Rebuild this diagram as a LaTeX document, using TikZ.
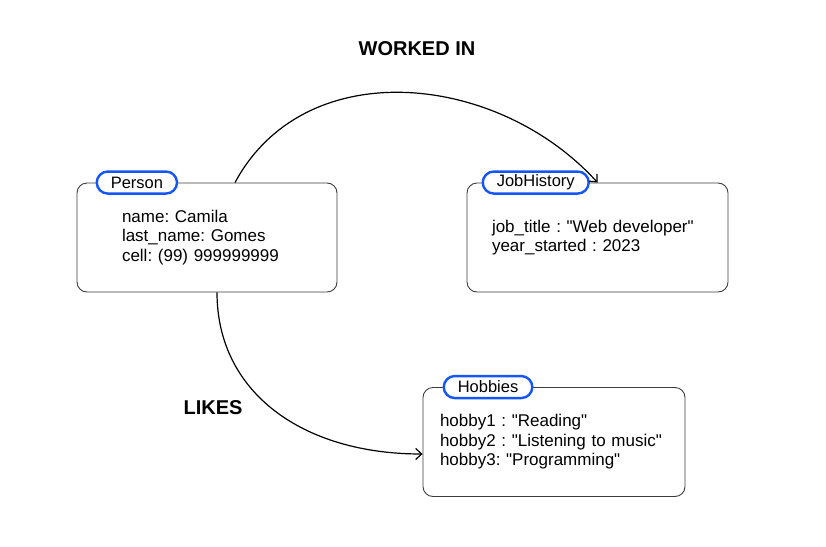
\documentclass[tikz,border=0pt]{standalone}
\usepackage{fontspec}
\setmainfont{Liberation Sans}
\usetikzlibrary{positioning,arrows.meta}
\definecolor{tagblue}{RGB}{20,85,245}
\definecolor{boxgray}{RGB}{60,60,60}
\frenchspacing

\begin{document}
\begin{tikzpicture}[x=1pt,y=-1pt,
  entity/.style={draw=boxgray, line width=0.9pt, rounded corners=10pt,
    minimum height=109pt, align=left, inner ysep=0pt,
    font=\fontsize{17}{19.5}\selectfont},
  tag/.style={draw=tagblue, fill=white, line width=2.4pt, rounded corners=11pt,
    minimum height=22pt, inner xsep=14pt, inner ysep=0pt, anchor=west,
    font=\fontsize{16.5}{19.5}\selectfont},
  rel/.style={font=\bfseries\fontsize{20}{20}\selectfont},
  link/.style={-{Straight Barb[length=6pt,width=11pt]}, line width=1.2pt}]
  \useasboundingbox (0,0) rectangle (826,546);

  % the three records
  \node [entity, inner xsep=45pt, text width=170pt] (person) at (207,237.5)
    {name: Camila\\last\_name: Gomes\\cell: (99) 999999999};
  \node [entity, inner xsep=25pt, text width=211pt] (job) at (597.5,237.5)
    {job\_title : \textquotedbl Web developer\textquotedbl\\year\_started : 2023};
  \node [entity, inner xsep=17pt, text width=228pt] (hobbies) at (554,442)
    {hobby1 : \textquotedbl Reading\textquotedbl\\hobby2 : \textquotedbl Listening to music\textquotedbl\\hobby3: \textquotedbl Programming\textquotedbl};

  \node [tag, xshift=19pt] (persontag) at (person.north west) {Person};
  \node [tag, xshift=15pt] (jobtag) at (job.north west) {JobHistory};
  \node [tag, xshift=20pt] (hobbiestag) at (hobbies.north west) {Hobbies};

  % relations
  \draw [link] ([xshift=28pt]person.north) .. controls +(70,-130) and +(-100,-110) .. (job.north);
  \draw [link] ([xshift=10pt]person.south) .. controls +(0,100) and +(-120,0) .. ([yshift=-12pt]hobbies.west);

  \node [rel] (worked) at (417,49) {WORKED IN};
  \node [rel] (likes) at (213,408) {LIKES};
\end{tikzpicture}
\end{document}
